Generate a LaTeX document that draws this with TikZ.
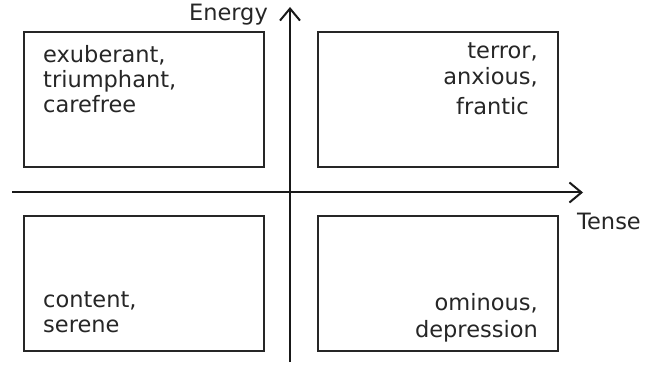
\documentclass[tikz,border=0pt]{standalone}
\usepackage{fontspec}
\setmainfont{DejaVu Sans}
\usetikzlibrary{arrows.meta}
\begin{document}
\begin{tikzpicture}[x=1pt,y=-1pt,
  quad/.style={draw=black!85,line width=2pt,minimum width=240pt,minimum height=135pt,inner sep=0pt},
  axis/.style={line width=2pt,draw=black!90,-{Straight Barb[length=12pt,width=20pt,line width=2pt]}},
  lbl/.style={font=\fontsize{22.5}{25}\selectfont,text=black!85,inner sep=0pt},
]
\useasboundingbox (0,0) rectangle (658,366);
\node[quad] (tl) at (144,99.5) {};
\node[quad] (tr) at (438,99.5) {};
\node[quad] (bl) at (144,283.5) {};
\node[quad] (br) at (438,283.5) {};
\coordinate (vb) at (290,362);
\coordinate (vt) at (290,7);
\coordinate (hl) at (12,192.5);
\coordinate (hr) at (583,192.5);
\draw[axis] (vb) -- (vt);
\draw[axis] (hl) -- (hr);
\node[lbl,anchor=base east] (energy) at (268,21) {Energy};
\node[lbl,anchor=base west] (tense) at (577,229) {Tense};
\node[lbl,align=left,anchor=base west] (ttl) at (43,113) {exuberant,\\triumphant,\\carefree};
\node[lbl,align=right,anchor=base east] (ttr) at (538,115) {terror,\\[1pt]anxious,\\[5pt]frantic\hspace*{9pt}};
\node[lbl,align=left,anchor=base west] (tbl) at (43,332) {content,\\serene};
\node[lbl,align=right,anchor=base east] (tbr) at (538,337) {ominous,\\[2pt]depression};
\end{tikzpicture}
\end{document}
